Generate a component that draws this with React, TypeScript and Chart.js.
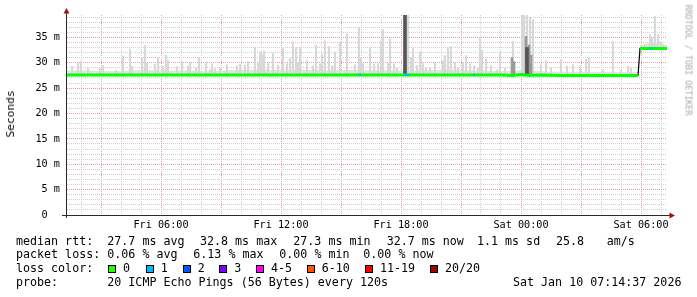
import React, { useEffect, useRef } from 'react';
import { Chart, registerables } from 'chart.js';

Chart.register(...registerables);

// ---- axis ranges (hours since Fri 00:00, seconds in ms) ----
const X_MIN = 1.3; // Fri 01:18
const X_MAX = 31.3; // Sat 07:18
const Y_MAX = 39.4;

const xTickHours = [6, 12, 18, 24, 30];
const xTickLabels = ['Fri 06:00', 'Fri 12:00', 'Fri 18:00', 'Sat 00:00', 'Sat 06:00'];
const yTickValues = [0, 5, 10, 15, 20, 25, 30, 35];
const yTickLabels = ['0  ', '5 m', '10 m', '15 m', '20 m', '25 m', '30 m', '35 m'];

// ---- median rtt (ms) ----
const medianTimes = [1.3, 3.0, 5.0, 7.0, 9.0, 11.0, 13.0, 15.0, 17.0, 19.0, 21.0, 23.0, 23.6, 24.0, 24.4, 24.8, 26.0, 28.0, 29.85, 29.9, 29.95, 31.3];
const medianValues: (number | null)[] = [27.6, 27.6, 27.6, 27.6, 27.6, 27.6, 27.6, 27.6, 27.6, 27.6, 27.6, 27.6, 27.5, 27.7, 27.5, 27.6, 27.5, 27.5, 27.5, null, 32.8, 32.8];

// ---- light smoke spikes ----
const spikeTimes = [1.55, 1.85, 2.0, 2.35, 2.95, 3.1, 3.75, 4.1, 4.45, 4.55, 5.05, 5.2, 5.3, 5.7, 5.85, 6.1, 6.25, 6.35, 6.8, 7.05, 7.35, 7.45, 7.75, 7.9, 8.25, 8.45, 8.55, 8.7, 8.95, 9.3, 9.8, 9.95, 10.2, 10.35, 10.7, 10.85, 10.95, 11.05, 11.15, 11.35, 11.6, 11.85, 12.1, 12.3, 12.45, 12.6, 12.75, 12.85, 12.95, 13.3, 13.6, 13.75, 13.95, 14.05, 14.2, 14.4, 14.55, 14.7, 14.95, 15.3, 15.7, 15.9, 16.0, 16.1, 16.45, 16.65, 16.85, 17.0, 17.1, 17.35, 17.45, 17.65, 17.8, 18.35, 18.5, 18.6, 18.8, 18.95, 19.1, 19.25, 19.45, 19.7, 20.1, 20.2, 20.35, 20.5, 20.7, 20.85, 21.1, 21.25, 21.45, 21.65, 21.85, 21.95, 22.05, 22.25, 22.5, 22.8, 22.95, 23.2, 23.6, 24.05, 24.15, 24.3, 24.45, 24.6, 25.0, 25.25, 25.5, 26.0, 26.3, 26.6, 26.95, 27.25, 27.4, 28.1, 28.6, 29.0, 29.35, 29.5, 30.2, 30.45, 30.55, 30.7, 30.85, 31.0, 31.1];
const spikeTops = [29.3, 29.9, 30.3, 28.9, 29.0, 29.4, 28.5, 31.3, 32.7, 29.3, 31.0, 33.4, 29.9, 29.7, 31.0, 29.3, 31.5, 30.5, 29.2, 30.2, 29.3, 30.1, 29.0, 31.0, 30.1, 28.6, 29.8, 28.8, 29.0, 29.6, 29.4, 29.7, 29.5, 30.2, 33.0, 30.1, 32.1, 31.6, 32.3, 30.1, 31.9, 29.5, 32.8, 29.8, 30.8, 34.1, 33.0, 30.1, 33.0, 30.4, 29.4, 33.5, 29.8, 31.6, 34.3, 33.2, 29.4, 32.1, 34.1, 35.7, 29.6, 37.0, 31.0, 29.8, 33.0, 29.8, 29.8, 34.3, 36.5, 29.8, 34.7, 29.8, 28.9, 39.4, 31.0, 32.8, 29.5, 32.1, 29.8, 28.9, 28.9, 30.1, 30.4, 31.4, 32.9, 33.2, 30.1, 28.9, 30.1, 31.4, 29.8, 29.4, 28.9, 34.9, 32.5, 30.8, 29.4, 28.6, 32.1, 29.0, 34.2, 39.4, 39.4, 39.4, 39.0, 38.5, 29.6, 30.4, 28.9, 30.6, 29.3, 29.6, 29.3, 30.7, 30.9, 28.6, 34.2, 28.6, 29.3, 28.9, 33.5, 35.5, 34.9, 39.1, 35.5, 34.2, 33.5];

// ---- denser (darker) smoke ----
const midTimes = [23.55, 23.65, 24.25, 24.4, 24.5];
const midTops = [31.0, 30.2, 35.2, 33.5, 31.5];
const darkTimes = [18.2, 24.3];
const darkTops = [39.4, 33.0];

// ---- low smoke band just above the median ----
const bandTimes = [1.3, 2.3, 3.3, 4.3, 5.3, 6.3, 7.3, 8.3, 9.3, 10.3, 11.3, 12.3, 13.3, 14.3, 15.3, 16.3, 17.3, 18.3, 19.3, 20.3, 21.3, 22.3, 23.3, 24.3, 25.3, 26.3, 27.3, 28.3, 29.3, 29.85];
const bandTops = [28.4, 28.5, 28.3, 28.4, 28.6, 28.4, 28.5, 28.3, 28.5, 28.6, 28.6, 28.5, 28.6, 28.5, 28.6, 28.5, 28.5, 28.4, 28.5, 28.6, 28.5, 28.4, 28.3, 28.6, 28.2, 28.2, 28.1, 28.2, 28.1, 28.1];
const bandPostTimes = [29.95, 30.3, 30.6, 30.9, 31.3];
const bandPostTops = [33.4, 33.8, 34.2, 33.9, 33.5];

// ---- loss marks on the median ----
const lossTimes = [15.95, 18.2, 18.35, 21.65, 30.5];
const lossCounts = [1, 1, 1, 1, 1];

// ---- legend text ----
const rowLabels = ['median rtt:', 'packet loss:', 'loss color:', 'probe:'];
const rttStats = ['27.7 ms avg', '32.8 ms max', '27.3 ms min', '32.7 ms now', '1.1 ms sd', '25.8', 'am/s'];
const lossStats = ['0.06 % avg', '6.13 % max', '0.00 % min', '0.00 % now'];
const lossColorLabels = ['0', '1', '2', '3', '4-5', '6-10', '11-19', '20/20'];
const probeText = '20 ICMP Echo Pings (56 Bytes) every 120s';
const dateText = 'Sat Jan 10 07:14:37 2026';

// ---- styles ----
const LOSS_COLORS = ['#26ff00', '#00b8ff', '#0059ff', '#7e00ff', '#ff00ff', '#ff5500', '#ff0000', '#a00000'];
const FONT = "'DejaVu Sans Mono', monospace";
const LEGEND_SIZE = 11.66;
const rttX = [107.3, 200, 293.3, 386.7, 477, 556, 606.7];
const lossX = [107.3, 193.3, 279.3, 363.3];
const boxX = [108, 145.7, 182.7, 219.3, 256, 306.7, 365, 430];
const baselines = [245.6, 259.3, 273.0, 286.7];

function medianAt(t: number): number {
  let v = medianValues[0] as number;
  for (let i = 0; i < medianTimes.length; i++) {
    const m = medianValues[i];
    if (medianTimes[i] <= t && m != null) v = m;
  }
  return v;
}

const rrdAxes = {
  id: 'rrdAxes',
  afterDatasetsDraw(chart: any) {
    const { ctx, chartArea: a } = chart;
    ctx.save();
    ctx.strokeStyle = '#2a2a2a';
    ctx.lineWidth = 1;
    ctx.beginPath();
    ctx.moveTo(a.left - 5, a.bottom + 0.5);
    ctx.lineTo(a.right + 3, a.bottom + 0.5);
    ctx.moveTo(a.left - 0.5, a.bottom + 3);
    ctx.lineTo(a.left - 0.5, a.top - 3);
    ctx.stroke();
    ctx.fillStyle = '#a01414';
    ctx.beginPath();
    ctx.moveTo(a.left - 0.5, a.top - 7);
    ctx.lineTo(a.left + 2.5, a.top - 1.5);
    ctx.lineTo(a.left - 3.5, a.top - 1.5);
    ctx.closePath();
    ctx.fill();
    ctx.beginPath();
    ctx.moveTo(a.right + 8, a.bottom + 0.5);
    ctx.lineTo(a.right + 2.5, a.bottom - 2.5);
    ctx.lineTo(a.right + 2.5, a.bottom + 3.5);
    ctx.closePath();
    ctx.fill();
    ctx.restore();
  },
};

export default function App() {
  const ref = useRef<HTMLCanvasElement>(null);

  useEffect(() => {
    document.body.style.margin = '0';
    const canvas = ref.current;
    if (!canvas) return;

    const spikes = spikeTimes.map((t, i) => ({ x: t, y: [medianAt(t), spikeTops[i]] }));
    const mids = midTimes.map((t, i) => ({ x: t, y: [medianAt(t), midTops[i]] }));
    const darks = darkTimes.map((t, i) => ({ x: t, y: [medianAt(t), darkTops[i]] }));
    const median = medianTimes.map((t, i) => ({ x: t, y: medianValues[i] }));
    const band = bandTimes.map((t, i) => ({ x: t, y: bandTops[i] }));
    const bandPost = bandPostTimes.map((t, i) => ({ x: t, y: bandPostTops[i] }));
    const loss = lossTimes.map((t) => ({ x: t, y: medianAt(t) }));

    const chart = new Chart(canvas, {
      type: 'line',
      data: {
        datasets: [
          {
            type: 'scatter',
            data: loss,
            pointStyle: 'rect',
            pointRadius: 1.6,
            pointBackgroundColor: lossCounts.map((c) => LOSS_COLORS[c]),
            pointBorderWidth: 0,
            order: -1,
          } as any,
          {
            type: 'line',
            data: median,
            borderColor: '#00ff00',
            borderWidth: 3,
            pointRadius: 0,
            spanGaps: false,
            tension: 0,
            order: 0,
          },
          {
            type: 'line',
            data: median,
            borderColor: '#000000',
            borderWidth: 1.2,
            pointRadius: 0,
            spanGaps: true,
            tension: 0,
            order: 1,
          },
          {
            type: 'bar',
            data: darks,
            backgroundColor: '#555555',
            barThickness: 3,
            grouped: false,
            borderWidth: 0,
            order: 2,
          } as any,
          {
            type: 'bar',
            data: mids,
            backgroundColor: '#9a9a9a',
            barThickness: 2,
            grouped: false,
            borderWidth: 0,
            order: 3,
          } as any,
          {
            type: 'bar',
            data: spikes,
            backgroundColor: '#d8d8d8',
            barThickness: 1.5,
            grouped: false,
            borderWidth: 0,
            order: 4,
          } as any,
          {
            type: 'line',
            data: band,
            borderWidth: 0,
            pointRadius: 0,
            backgroundColor: '#e2e2e2',
            fill: { value: 27.6 },
            order: 5,
          } as any,
          {
            type: 'line',
            data: bandPost,
            borderWidth: 0,
            pointRadius: 0,
            backgroundColor: '#e2e2e2',
            fill: { value: 32.8 },
            order: 5,
          } as any,
        ],
      },
      options: {
        responsive: false,
        maintainAspectRatio: false,
        animation: false,
        events: [],
        layout: { padding: { left: 0, top: 15, right: 30, bottom: 0 } },
        plugins: { legend: { display: false }, tooltip: { enabled: false } },
        scales: {
          x: {
            type: 'linear',
            min: X_MIN,
            max: X_MAX,
            offset: false,
            afterBuildTicks: (s: any) => {
              const t = [];
              for (let h = Math.ceil(X_MIN); h <= X_MAX; h++) t.push({ value: h });
              s.ticks = t;
            },
            afterFit: (s: any) => {
              s.height = 82;
            },
            grid: {
              offset: false,
              drawTicks: false,
              lineWidth: 1,
              color: (c: any) => (c.tick && c.tick.value % 3 === 0 ? '#e3a0a0' : '#cfcfcf'),
            },
            border: { display: false, dash: [1, 1] },
            ticks: {
              autoSkip: false,
              maxRotation: 0,
              minRotation: 0,
              padding: 4,
              color: '#000',
              font: { family: FONT, size: 10.2 },
              callback: (v: any) => {
                const i = xTickHours.indexOf(Number(v));
                return i >= 0 ? xTickLabels[i] : '';
              },
            },
          },
          y: {
            type: 'linear',
            min: 0,
            max: Y_MAX,
            afterBuildTicks: (s: any) => {
              const t = [];
              for (let v = 0; v <= Math.floor(Y_MAX); v++) t.push({ value: v });
              s.ticks = t;
            },
            afterFit: (s: any) => {
              s.width = 67;
            },
            grid: {
              drawTicks: false,
              lineWidth: 1,
              color: (c: any) => (c.tick && c.tick.value % 5 === 0 ? '#e3a0a0' : '#cfcfcf'),
            },
            border: { display: false, dash: [1, 1] },
            ticks: {
              autoSkip: false,
              padding: 7,
              color: '#000',
              font: { family: FONT, size: 10.2 },
              callback: (v: any) => {
                const i = yTickValues.indexOf(Number(v));
                return i >= 0 ? yTickLabels[i] : '';
              },
            },
          },
        },
      },
      plugins: [rrdAxes],
    });
    return () => chart.destroy();
  }, []);

  const textStyle = (x: number, row: number): React.CSSProperties => ({
    position: 'absolute',
    left: x,
    top: baselines[row] - 0.846 * LEGEND_SIZE,
    fontFamily: FONT,
    fontSize: LEGEND_SIZE,
    lineHeight: `${LEGEND_SIZE}px`,
    whiteSpace: 'pre',
    color: '#000',
  });

  return (
    <div style={{ position: 'absolute', left: 0, top: 0, width: 697, height: 297, background: '#fff', overflow: 'hidden' }}>
      <canvas ref={ref} width={697} height={297} style={{ position: 'absolute', left: 0, top: 0, width: 697, height: 297 }} />
      <div
        style={{
          position: 'absolute',
          left: 10.5,
          top: 113.5,
          transform: 'translate(-50%, -50%) rotate(-90deg)',
          fontFamily: FONT,
          fontSize: 11.2,
          lineHeight: '12px',
          whiteSpace: 'nowrap',
          color: '#000',
        }}
      >
        Seconds
      </div>
      <div
        style={{
          position: 'absolute',
          left: 687.5,
          top: 60,
          transform: 'translate(-50%, -50%) rotate(90deg)',
          fontFamily: FONT,
          fontSize: 8.4,
          lineHeight: '9px',
          whiteSpace: 'nowrap',
          color: '#a8a8a8',
        }}
      >
        RRDTOOL / TOBI OETIKER
      </div>
      {rowLabels.map((l, r) => (
        <span key={'l' + r} style={textStyle(16, r)}>{l}</span>
      ))}
      {rttStats.map((s, i) => (
        <span key={'r' + i} style={textStyle(rttX[i], 0)}>{s}</span>
      ))}
      {lossStats.map((s, i) => (
        <span key={'p' + i} style={textStyle(lossX[i], 1)}>{s}</span>
      ))}
      {lossColorLabels.map((s, i) => (
        <React.Fragment key={'c' + i}>
          <span
            style={{
              position: 'absolute',
              left: boxX[i],
              top: baselines[2] - 8,
              width: 6,
              height: 6,
              background: LOSS_COLORS[i],
              border: '1px solid #000',
            }}
          />
          <span style={textStyle(boxX[i] + 15, 2)}>{s}</span>
        </React.Fragment>
      ))}
      <span style={textStyle(107.3, 3)}>{probeText}</span>
      <span style={textStyle(513, 3)}>{dateText}</span>
    </div>
  );
}
